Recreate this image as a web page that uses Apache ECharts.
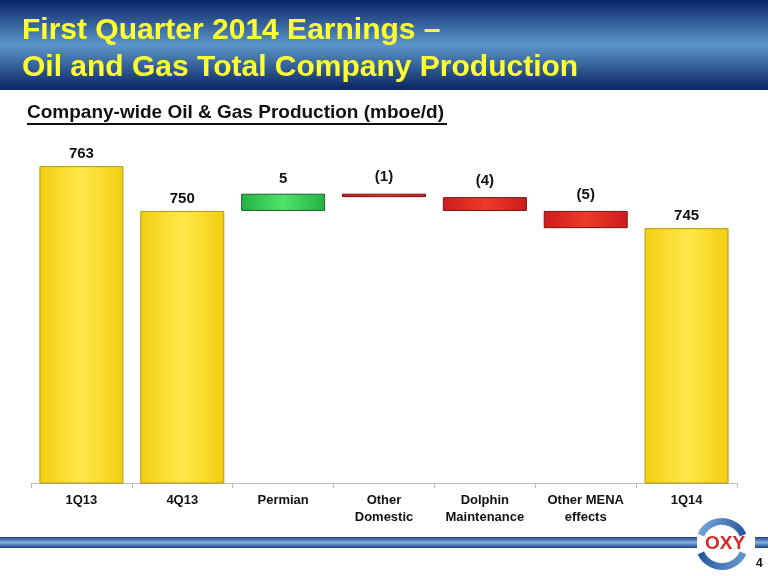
<!DOCTYPE html>
<html>
<head>
<meta charset="utf-8">
<script src="https://cdn.jsdelivr.net/npm/echarts@6/dist/echarts.min.js"></script>
<style>
html,body{margin:0;padding:0;background:#fff;}
#c{width:768px;height:576px;}
</style>
</head>
<body>
<div id="c"></div>
<script>
const categories = ['1Q13', '4Q13', 'Permian', 'Other\nDomestic', 'Dolphin\nMaintenance', 'Other MENA\neffects', '1Q14'];
const totals = [763, 750, null, null, null, null, 745];
const changes = [null, null, 5, -1, -4, -5, null];

// build waterfall pieces
const baseData = [], totalData = [], upData = [], downData = [];
let running = 0;
for (let i = 0; i < categories.length; i++) {
  if (totals[i] !== null) {
    running = totals[i];
    baseData.push('-'); totalData.push(totals[i]); upData.push('-'); downData.push('-');
  } else {
    const c = changes[i];
    const start = running, end = running + c;
    baseData.push(Math.min(start, end));
    totalData.push('-');
    if (c >= 0) { upData.push(c); downData.push('-'); }
    else { downData.push(-c); upData.push('-'); }
    running = end;
  }
}

function hGrad(a, b) {
  return new echarts.graphic.LinearGradient(0, 0, 1, 0, [
    {offset: 0, color: a}, {offset: 0.5, color: b}, {offset: 1, color: a}
  ]);
}

const labelStyle = {show: true, position: 'top', distance: 5, color: '#111', fontFamily: 'Liberation Sans, Arial', fontWeight: 'bold', fontSize: 15};

const chart = echarts.init(document.getElementById('c'), null, {renderer: 'canvas'});
chart.setOption({
  animation: false,
  backgroundColor: '#ffffff',
  grid: {left: 31, right: 31, top: 138.6, bottom: 93},
  xAxis: {
    type: 'category', data: categories,
    axisLine: {lineStyle: {color: '#bbbbbb', width: 1}},
    axisTick: {show: true, length: 5, lineStyle: {color: '#bbbbbb'}},
    axisLabel: {color: '#111', fontFamily: 'Liberation Sans, Arial', fontWeight: 'bold', fontSize: 13, lineHeight: 17, margin: 9, interval: 0}
  },
  yAxis: {type: 'value', min: 671, max: 771, show: false, splitLine: {show: false}},
  series: [
    {name: 'base', type: 'bar', stack: 'w', data: baseData, barWidth: 84, itemStyle: {color: 'rgba(0,0,0,0)'}, silent: true},
    {name: 'total', type: 'bar', stack: 'w', data: totalData, barWidth: 84,
     itemStyle: {color: hGrad('#F2CE12', '#FFE84A'), borderColor: '#B8960A', borderWidth: 1},
     label: Object.assign({}, labelStyle)},
    {name: 'up', type: 'bar', stack: 'w', data: upData, barWidth: 84,
     itemStyle: {color: hGrad('#25B045', '#4FE36A'), borderColor: '#1C5E2A', borderWidth: 1},
     label: Object.assign({}, labelStyle, {distance: 7, formatter: p => String(p.value)})},
    {name: 'down', type: 'bar', stack: 'w', data: downData, barWidth: 84,
     itemStyle: {color: hGrad('#CC1C1C', '#EE3A2A'), borderColor: '#7A1010', borderWidth: 1},
     label: Object.assign({}, labelStyle, {distance: 9, formatter: p => '(' + p.value + ')'})}
  ],
  graphic: [
    {type: 'rect', left: 0, top: 0, shape: {width: 768, height: 90}, z: 0,
     style: {fill: new echarts.graphic.LinearGradient(0, 0, 0, 1, [
       {offset: 0, color: '#0A2568'}, {offset: 0.5, color: '#5B96C9'}, {offset: 1, color: '#0A2460'}])}},
    {type: 'text', left: 22, top: 16, z: 2, style: {text: 'First Quarter 2014 Earnings –', fill: '#FFFF33', font: 'bold 30px "Liberation Sans", Arial'}},
    {type: 'text', left: 22, top: 53, z: 2, style: {text: 'Oil and Gas Total Company Production', fill: '#FFFF33', font: 'bold 30px "Liberation Sans", Arial'}},
    {type: 'text', left: 27, top: 103, z: 2, style: {text: 'Company-wide Oil & Gas Production (mboe/d)', fill: '#111', font: 'bold 19px "Liberation Sans", Arial'}},
    {type: 'rect', left: 27, top: 123, z: 2, shape: {width: 420, height: 2}, style: {fill: '#111'}},
    {type: 'rect', left: 0, top: 537, z: 1, shape: {width: 768, height: 11},
     style: {fill: new echarts.graphic.LinearGradient(0, 0, 0, 1, [
       {offset: 0, color: '#1B3F8A'}, {offset: 0.5, color: '#86AEDD'}, {offset: 1, color: '#1B3F8A'}])}},
    {type: 'rect', z: 3, left: 697, top: 530, shape: {width: 58, height: 26}, style: {fill: '#ffffff'}},
    {type: 'arc', z: 4, x: 722, y: 544, scaleY: 0.98, shape: {cx: 0, cy: 0, r: 23, startAngle: Math.PI * 1.13, endAngle: Math.PI * 1.87, clockwise: true},
     style: {stroke: new echarts.graphic.LinearGradient(0, 0, 1, 1, [{offset: 0, color: '#7FB0E0'}, {offset: 1, color: '#1F4E9A'}]), lineWidth: 7, fill: 'none'}},
    {type: 'arc', z: 4, x: 722, y: 544, scaleY: 0.98, shape: {cx: 0, cy: 0, r: 23, startAngle: Math.PI * 0.13, endAngle: Math.PI * 0.87, clockwise: true},
     style: {stroke: new echarts.graphic.LinearGradient(0, 0, 1, 1, [{offset: 0, color: '#1F4E9A'}, {offset: 1, color: '#6FA2D6'}]), lineWidth: 7, fill: 'none'}},
    {type: 'text', z: 5, x: 725, y: 544, style: {text: 'OXY', fill: '#D42A2A', font: 'bold 19px "Liberation Sans", Arial', align: 'center', verticalAlign: 'middle'}},
    {type: 'text', z: 5, left: 756, top: 558, style: {text: '4', fill: '#111', font: 'bold 12px "Liberation Sans", Arial'}}
  ]
});
</script>
</body>
</html>
